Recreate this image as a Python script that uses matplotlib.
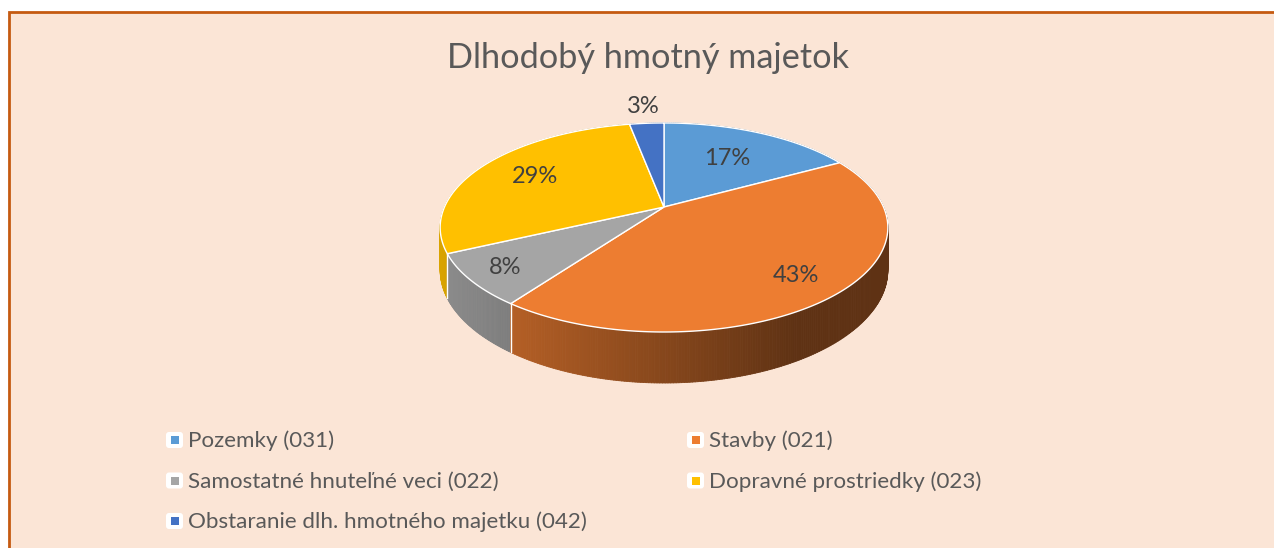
import numpy as np
import matplotlib.pyplot as plt
from matplotlib.patches import Polygon, Rectangle, FancyBboxPatch
from matplotlib.collections import PolyCollection

plt.rcParams['font.family'] = ['Lato', 'DejaVu Sans']

title = 'Dlhodobý hmotný majetok'
labels = ['Pozemky (031)', 'Stavby (021)', 'Samostatné hnuteľné veci (022)',
          'Dopravné prostriedky (023)', 'Obstaranie dlh. hmotného majetku (042)']
values = [17, 43, 8, 29, 3]
colors = ['#5B9BD5', '#ED7D31', '#A5A5A5', '#FFC000', '#4472C4']

W, H = 1274, 548
fig = plt.figure(figsize=(W / 100, H / 100), dpi=100)
ax = fig.add_axes([0, 0, 1, 1])
ax.set_xlim(0, W)
ax.set_ylim(H, 0)
ax.axis('off')

# chart area
ax.add_patch(Rectangle((9, 12), W, H, facecolor='#FBE5D6', edgecolor='#C55A11', lw=2))

# 3d pie geometry (pixel space, simple perspective)
cx, cy = 664, 207
rx, ry = 219.5, 100.5
k = 0.196
T = 41


def proj(theta, r=1.0, z=0.0):
    d = 1 + k * r * np.sin(theta)
    x = cx + rx * r * np.cos(theta) / d
    y = cy - ry * r * np.sin(theta) / d + z * T / d
    return x, y


frac = np.array(values) / sum(values)
edges = np.pi / 2 - 2 * np.pi * np.concatenate([[0], np.cumsum(frac)])

# side walls, drawn back to front
quads, qcols, depth = [], [], []
for i in range(len(values)):
    th = np.linspace(edges[i], edges[i + 1], max(4, int(abs(edges[i + 1] - edges[i]) / 0.01)))
    base = np.array(plt.matplotlib.colors.to_rgb(colors[i]))
    for a, b in zip(th[:-1], th[1:]):
        xa, ya = proj(a)
        xb, yb = proj(b)
        _, ya2 = proj(a, z=1)
        _, yb2 = proj(b, z=1)
        u = ((xa + xb) / 2 - (cx - rx)) / (2 * rx)
        f = np.clip(0.845 - 0.556 * u, 0.40, 1)
        quads.append([(xa, ya), (xb, yb), (xb, yb2), (xa, ya2)])
        qcols.append(base * f)
        depth.append(np.sin((a + b) / 2))
order = np.argsort(depth)[::-1]
ax.add_collection(PolyCollection([quads[j] for j in order],
                                 facecolors=[qcols[j] for j in order],
                                 edgecolors=[qcols[j] for j in order], linewidths=0.6))

# slice borders on the visible wall
for e in edges[:-1]:
    if np.sin(e) < 0:
        x1, y1 = proj(e)
        _, y2 = proj(e, z=1)
        ax.plot([x1, x1], [y1, y2], color='white', lw=1)

# top faces
for i in range(len(values)):
    th = np.linspace(edges[i], edges[i + 1], 200)
    xs, ys = proj(th)
    pts = [(cx, cy)] + list(zip(xs, ys))
    ax.add_patch(Polygon(pts, closed=True, facecolor=colors[i], edgecolor='white', lw=1))

# data labels
label_r = [0.62, 0.8, 0.84, 0.7, 1.25]
for i in range(len(values)):
    mid = (edges[i] + edges[i + 1]) / 2
    x, y = proj(mid, label_r[i])
    ax.text(x, y, f'{values[i]}%', ha='center', va='center', fontsize=17, color='#404040')

ax.text(648, 68, title, ha='center', va='baseline', fontsize=24.7, color='#595959')

# legend, row-wise like Excel
col_x = [166, 687]
for i, lab in enumerate(labels):
    bx = col_x[i % 2]
    by = 447 + 40.5 * (i // 2)
    ax.add_patch(FancyBboxPatch((bx + 1.5, by - 13.5), 14, 13, boxstyle='round,pad=1.5,rounding_size=3',
                                facecolor='white', edgecolor='none'))
    ax.add_patch(Rectangle((bx + 4.5, by - 11), 8, 8, facecolor=colors[i], edgecolor='none'))
    ax.text(bx + 22, by, lab, ha='left', va='baseline', fontsize=16.1, color='#595959')

fig.savefig('out.png', dpi=100, facecolor='white')
